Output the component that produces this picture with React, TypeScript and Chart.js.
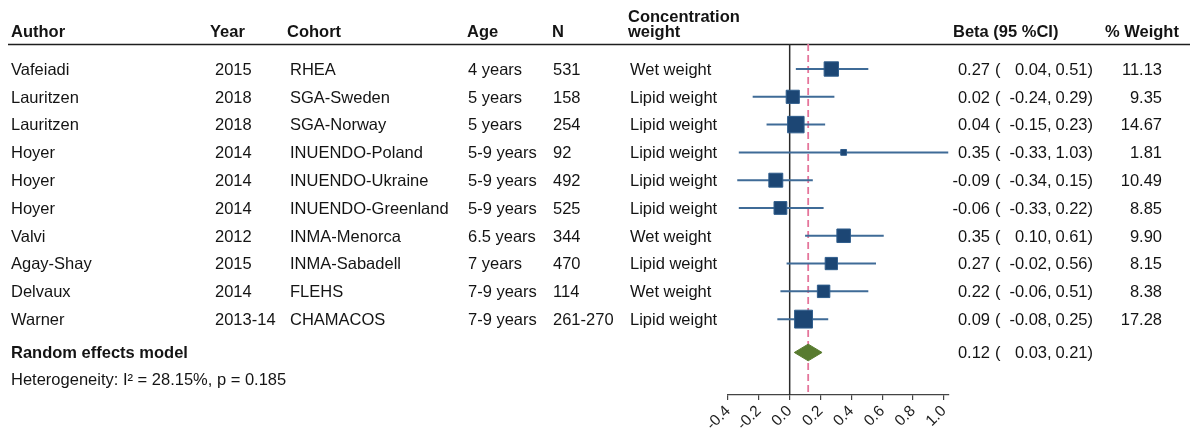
import React, { useEffect, useRef } from "react";
import { Chart, registerables } from "chart.js";

Chart.register(...registerables);

// ---------- data ----------
const authors = ["Vafeiadi", "Lauritzen", "Lauritzen", "Hoyer", "Hoyer", "Hoyer", "Valvi", "Agay-Shay", "Delvaux", "Warner"];
const years = ["2015", "2018", "2018", "2014", "2014", "2014", "2012", "2015", "2014", "2013-14"];
const cohorts = ["RHEA", "SGA-Sweden", "SGA-Norway", "INUENDO-Poland", "INUENDO-Ukraine", "INUENDO-Greenland", "INMA-Menorca", "INMA-Sabadell", "FLEHS", "CHAMACOS"];
const ages = ["4 years", "5 years", "5 years", "5-9 years", "5-9 years", "5-9 years", "6.5 years", "7 years", "7-9 years", "7-9 years"];
const ns = ["531", "158", "254", "92", "492", "525", "344", "470", "114", "261-270"];
const concWeight = ["Wet weight", "Lipid weight", "Lipid weight", "Lipid weight", "Lipid weight", "Lipid weight", "Wet weight", "Lipid weight", "Wet weight", "Lipid weight"];
const beta = [0.27, 0.02, 0.04, 0.35, -0.09, -0.06, 0.35, 0.27, 0.22, 0.09];
const lower = [0.04, -0.24, -0.15, -0.33, -0.34, -0.33, 0.10, -0.02, -0.06, -0.08];
const upper = [0.51, 0.29, 0.23, 1.03, 0.15, 0.22, 0.61, 0.56, 0.51, 0.25];
const weights = [11.13, 9.35, 14.67, 1.81, 10.49, 8.85, 9.90, 8.15, 8.38, 17.28];

const pooledLabel = "Random effects model";
const pooledEst = 0.12;
const pooledLower = 0.03;
const pooledUpper = 0.21;
const heterogeneityText = "Heterogeneity: I\u00B2 = 28.15%, p = 0.185";

const headers = ["Author", "Year", "Cohort", "Age", "N", "weight", "Beta (95 %CI)", "% Weight"];
const headerTopLine = "Concentration";

const TICK_VALUES = [-0.4, -0.2, 0.0, 0.2, 0.4, 0.6, 0.8, 1.0];
const TICK_LABELS = ["-0.4", "-0.2", "0.0", "0.2", "0.4", "0.6", "0.8", "1.0"];

// ---------- layout / style constants ----------
const W = 1192;
const H = 429;
const X_MIN = -0.4;
const X_MAX = 1.03;
const Y_MIN = -0.9;
const Y_MAX = 11.73;
const POOLED_ROW = 10.2;
const HET_ROW = 11.15;
const DIAMOND_HALF_H = 0.3;
const SQUARE_K = 4.3;

const FONT = '"Liberation Sans", Arial, Helvetica, sans-serif';
const FS = 16.5;
const TEXT_COLOR = "#141414";
const COL_X = [11, 215, 290, 468, 553, 630];
const HEAD_X = [11, 210, 287, 467, 552, 628, 953, 1105];
const EST_RIGHT = 990;
const PAREN_LEFT = 995;
const LOW_RIGHT = 1047;
const UP_RIGHT = 1087.5;
const WEIGHT_RIGHT = 1162;

const rows = beta.map((_, i) => i);

const textPlugin = {
  id: "forestText",
  beforeDatasetsDraw(chart: any) {
    const ctx = chart.ctx;
    const top = chart.chartArea.top;
    ctx.save();
    ctx.strokeStyle = "#1e1e1e";
    ctx.lineWidth = 1.5;
    ctx.beginPath();
    ctx.moveTo(8, top + 0.5);
    ctx.lineTo(1190, top + 0.5);
    ctx.stroke();
    ctx.restore();
  },
  afterDraw(chart: any) {
    const ctx = chart.ctx;
    const ys = chart.scales.y;
    ctx.save();
    ctx.fillStyle = TEXT_COLOR;
    ctx.textBaseline = "alphabetic";
    // headers
    ctx.font = `bold ${FS}px ${FONT}`;
    ctx.textAlign = "left";
    headers.forEach((h, i) => ctx.fillText(h, HEAD_X[i], 37));
    ctx.fillText(headerTopLine, HEAD_X[5], 21.5);

    // rows
    ctx.font = `${FS}px ${FONT}`;
    rows.forEach((i) => {
      const by = ys.getPixelForValue(i) + 5.8;
      const cols = [authors[i], years[i], cohorts[i], ages[i], ns[i], concWeight[i]];
      ctx.textAlign = "left";
      cols.forEach((t, c) => ctx.fillText(t, COL_X[c], by));
      ctx.textAlign = "right";
      ctx.fillText(beta[i].toFixed(2), EST_RIGHT, by);
      ctx.fillText(lower[i].toFixed(2), LOW_RIGHT, by);
      ctx.fillText(upper[i].toFixed(2), UP_RIGHT, by);
      ctx.fillText(weights[i].toFixed(2), WEIGHT_RIGHT, by);
      ctx.textAlign = "left";
      ctx.fillText("(", PAREN_LEFT, by);
      ctx.fillText(",", LOW_RIGHT, by);
      ctx.fillText(")", UP_RIGHT, by);
    });

    // pooled
    const py = ys.getPixelForValue(POOLED_ROW) + 5.8;
    ctx.font = `bold ${FS}px ${FONT}`;
    ctx.textAlign = "left";
    ctx.fillText(pooledLabel, COL_X[0], py);
    ctx.font = `${FS}px ${FONT}`;
    ctx.textAlign = "right";
    ctx.fillText(pooledEst.toFixed(2), EST_RIGHT, py);
    ctx.fillText(pooledLower.toFixed(2), LOW_RIGHT, py);
    ctx.fillText(pooledUpper.toFixed(2), UP_RIGHT, py);
    ctx.textAlign = "left";
    ctx.fillText("(", PAREN_LEFT, py);
    ctx.fillText(",", LOW_RIGHT, py);
    ctx.fillText(")", UP_RIGHT, py);

    const hy = ys.getPixelForValue(HET_ROW) + 5.8;
    ctx.fillText(heterogeneityText, COL_X[0], hy);
    ctx.restore();
  },
};

export default function App() {
  const ref = useRef<HTMLCanvasElement>(null);
  useEffect(() => {
    if (!ref.current) return;
    const ciData: any[] = [];
    rows.forEach((i) => {
      ciData.push({ x: lower[i], y: i });
      ciData.push({ x: upper[i], y: i });
      ciData.push({ x: upper[i], y: null });
    });
    const diamond = [
      { x: pooledLower, y: POOLED_ROW },
      { x: pooledEst, y: POOLED_ROW - DIAMOND_HALF_H },
      { x: pooledUpper, y: POOLED_ROW },
      { x: pooledEst, y: POOLED_ROW + DIAMOND_HALF_H },
      { x: pooledLower, y: POOLED_ROW },
    ];
    const chart = new Chart(ref.current, {
      type: "scatter",
      data: {
        datasets: [
          {
            label: "studies",
            data: rows.map((i) => ({ x: beta[i], y: i })),
            pointStyle: "rect",
            pointRadius: (c: any) => (SQUARE_K * Math.sqrt(weights[c.dataIndex] ?? 1)) / (2 * Math.SQRT1_2),
            backgroundColor: "#1c4674",
            borderColor: "#2f5d8c",
            borderWidth: 1,
            showLine: false,
          },
          {
            label: "pooled",
            data: diamond,
            showLine: true,
            pointRadius: 0,
            borderColor: "#587b2f",
            borderWidth: 1,
            backgroundColor: "#587b2f",
            fill: "shape",
            tension: 0,
          },
          {
            label: "ci",
            data: ciData,
            showLine: true,
            spanGaps: false,
            pointRadius: 0,
            borderColor: "#3f6b97",
            borderWidth: 2,
          },
          {
            label: "pooledLine",
            data: [
              { x: pooledEst, y: Y_MIN },
              { x: pooledEst, y: Y_MAX },
            ],
            showLine: true,
            pointRadius: 0,
            borderColor: "#e5759b",
            borderWidth: 1.8,
            borderDash: [7, 4],
          },
          {
            label: "zero",
            data: [
              { x: 0, y: Y_MIN },
              { x: 0, y: Y_MAX },
            ],
            showLine: true,
            pointRadius: 0,
            borderColor: "#2a2a2a",
            borderWidth: 1.5,
          },
        ],
      },
      options: {
        animation: false,
        responsive: false,
        maintainAspectRatio: false,
        devicePixelRatio: 1,
        layout: { padding: { left: 728, right: W - 948.5, top: 44, bottom: 0 } },
        plugins: { legend: { display: false }, tooltip: { enabled: false } },
        scales: {
          x: {
            type: "linear",
            min: X_MIN,
            max: X_MAX,
            afterBuildTicks: (scale: any) => {
              scale.ticks = TICK_VALUES.map((v) => ({ value: v }));
            },
            afterFit: (scale: any) => {
              scale.height = 34;
            },
            ticks: {
              minRotation: 45,
              maxRotation: 45,
              autoSkip: false,
              color: "#1e1e1e",
              padding: 2,
              font: { size: 15.5, family: FONT },
              callback: (_v: any, i: number) => TICK_LABELS[i],
            },
            grid: { display: true, drawOnChartArea: false, drawTicks: true, tickLength: 5, color: "#444", lineWidth: 1.2 },
            border: { display: true, color: "#444", width: 1.2 },
          },
          y: {
            type: "linear",
            display: false,
            reverse: true,
            min: Y_MIN,
            max: Y_MAX,
          },
        },
      } as any,
      plugins: [textPlugin],
    });
    return () => chart.destroy();
  }, []);
  return (
    <div style={{ position: "absolute", left: 0, top: 0, width: W, height: H, background: "#fff" }}>
      <canvas ref={ref} width={W} height={H} style={{ width: W, height: H, display: "block" }} />
    </div>
  );
}
